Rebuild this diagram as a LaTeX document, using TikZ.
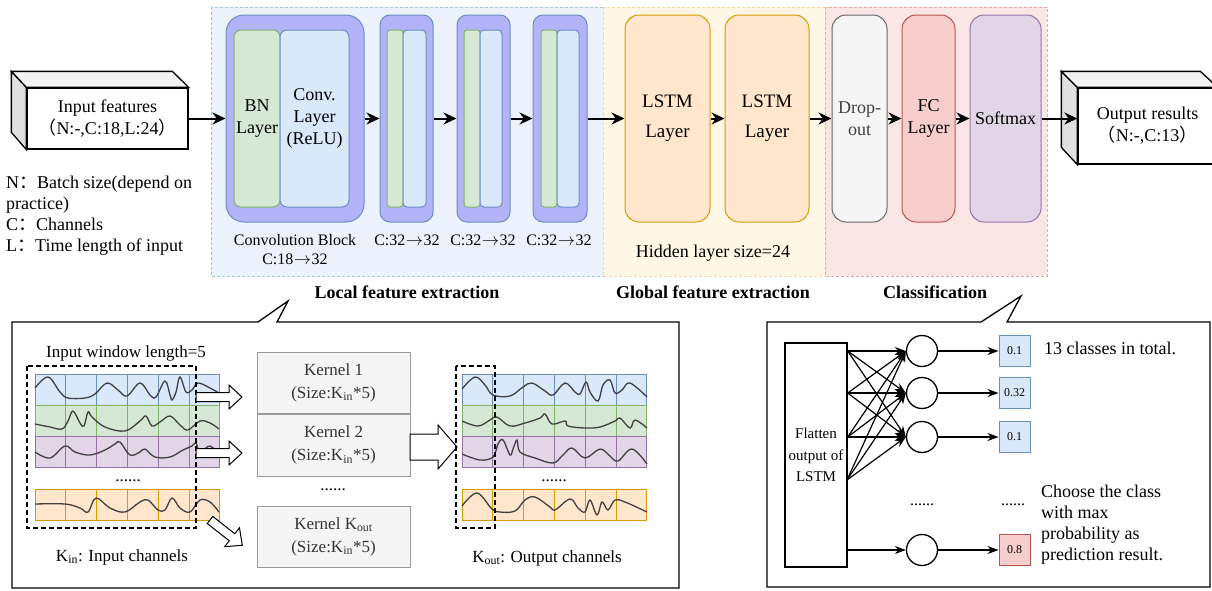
\documentclass[tikz,border=0pt]{standalone}
\usepackage{fontspec}
\setmainfont{Liberation Serif}
\newfontfamily\cjk{Noto Sans CJK SC}
\usetikzlibrary{arrows.meta, positioning}

\definecolor{bluefill}{HTML}{DAE8FC}
\definecolor{blueline}{HTML}{6C8EBF}
\definecolor{greenfill}{HTML}{D5E8D4}
\definecolor{greenline}{HTML}{82B366}
\definecolor{purpfill}{HTML}{E1D5E7}
\definecolor{purpline}{HTML}{9673A6}
\definecolor{orangefill}{HTML}{FFE6CC}
\definecolor{orangeline}{HTML}{D79B00}
\definecolor{redfill}{HTML}{F8CECC}
\definecolor{redline}{HTML}{B85450}
\definecolor{grayfill}{HTML}{F5F5F5}
\definecolor{grayline}{HTML}{666666}
\definecolor{convfill}{HTML}{B3B3FA}
\definecolor{locbg}{HTML}{EBF2FC}
\definecolor{locline}{HTML}{A9C1E3}
\definecolor{globg}{HTML}{FFF7E5}
\definecolor{globline}{HTML}{EED9A0}
\definecolor{clsbg}{HTML}{FBE6E6}
\definecolor{clsline}{HTML}{E8A8A8}

\newcommand{\fsz}[2]{\fontsize{#1}{#2}\selectfont}
\newcommand{\toarr}{\kern0.5pt$\rightarrow$\kern0.5pt}
% one row of six cells
\newcommand{\chanrow}[3]{\foreach \i in {0,...,5} \draw[#3] ({#1+\i*30.8},#2) rectangle ++(30.8,31);}
% hollow block arrow: x, y, angle, length, body half, head half, head length
\newcommand{\hollowarrow}[7]{%
  \begin{scope}[shift={(#1,#2)}, rotate=#3]
    \draw[fill=white, line width=1pt] (0,-#5) -- ({#4-#7},-#5) -- ({#4-#7},-#6) -- (#4,0)
      -- ({#4-#7},#6) -- ({#4-#7},#5) -- (0,#5) -- cycle;
  \end{scope}}

\begin{document}
\begin{tikzpicture}[
    x=1pt, y=-1pt,
    every node/.style={inner sep=0pt, align=center, font=\fsz{18}{22}},
    region/.style={dashed, line width=0.6pt, dash pattern=on 3pt off 2pt},
    cube/.style={draw, fill=white, line width=1.3pt},
    convblock/.style={draw=blueline, fill=convfill, line width=1pt, rounded corners=18pt, minimum height=207pt},
    bnlayer/.style={draw=greenline, fill=greenfill, line width=1pt, rounded corners=7pt, minimum height=177pt},
    convlayer/.style={draw=blueline, fill=bluefill, line width=1pt, rounded corners=7pt, minimum height=177pt},
    layerbox/.style={line width=1pt, rounded corners=14pt, minimum height=207pt},
    flow/.style={-{Stealth[length=13pt,width=12pt]}, line width=2pt},
    small/.style={font=\fsz{16}{19}},
    kernel/.style={draw=black!40, fill=grayfill, line width=1pt, minimum width=153pt, text=black!80, font=\fsz{17}{23}},
    winbox/.style={draw, dashed, dash pattern=on 5pt off 3pt, line width=1.5pt},
    wave/.style={draw=black!75, line width=1.3pt},
    link/.style={-{Stealth[length=11pt,width=8pt]}, line width=1.2pt},
    prob/.style={line width=1pt, minimum width=31pt, minimum height=31pt, font=\fsz{12}{14}}
  ]
  \useasboundingbox (0,0) rectangle (1212,590);

  % Regions
  \draw[region, fill=locbg, draw=locline] (211,7) rectangle (603,276);
  \draw[region, fill=globg, draw=globline] (603,7) rectangle (825,276);
  \draw[region, fill=clsbg, draw=clsline] (825,7) rectangle (1047,276);

  % Input / output boxes
  \node[cube, minimum width=161pt, minimum height=61pt] (inp) at (107.5,118.5) {Input features\\{\cjk（}N:-,C:18,L:24{\cjk）}};
  \draw[cube, fill=black!12] (inp.north west) -- ++(-15,-16) -- ++(0,61) -- (inp.south west) -- cycle;
  \draw[cube, fill=black!5] (inp.north west) -- ++(-15,-16) -- ++(161,0) -- (inp.north east) -- cycle;
  \node[cube, minimum width=139pt, minimum height=76pt] (out) at (1147.5,126) {Output results\\{\cjk（}N:-,C:13{\cjk）}};
  \draw[cube, fill=black!12] (out.north west) -- ++(-16,-16) -- ++(0,76) -- (out.south west) -- cycle;
  \draw[cube, fill=black!5] (out.north west) -- ++(-16,-16) -- ++(139,0) -- (out.north east) -- cycle;

  \node[anchor=west, align=left, font=\fsz{18}{21}] (legend) at (6,215.5)
    {N{\cjk：}Batch size(depend on\\practice)\\C{\cjk：}Channels\\L{\cjk：}Time length of input};

  % Convolution blocks
  \node[convblock, minimum width=138pt] (cb1) at (295,118.5) {};
  \node[bnlayer, minimum width=46pt] (bn1) at (257,118.5) {BN\\Layer};
  \node[convlayer, minimum width=69pt] (cl1) at (314.5,118.5) {Conv.\\Layer\\(ReLU)};
  \node[convblock, minimum width=53pt, rounded corners=10pt] (cb2) at (406.5,118.5) {};
  \node[bnlayer, minimum width=16pt, rounded corners=3pt] (bn2) at (395,118.5) {};
  \node[convlayer, minimum width=23pt, rounded corners=4pt] (cl2) at (414.5,118.5) {};
  \node[convblock, minimum width=53pt, rounded corners=10pt] (cb3) at (483.5,118.5) {};
  \node[bnlayer, minimum width=16pt, rounded corners=3pt] (bn3) at (472,118.5) {};
  \node[convlayer, minimum width=22pt, rounded corners=4pt] (cl3) at (491,118.5) {};
  \node[convblock, minimum width=54pt, rounded corners=10pt] (cb4) at (560,118.5) {};
  \node[bnlayer, minimum width=16pt, rounded corners=3pt] (bn4) at (549,118.5) {};
  \node[convlayer, minimum width=22pt, rounded corners=4pt] (cl4) at (568,118.5) {};

  \node[small] (lb1) at (295,249.5) {Convolution Block\\C:18\toarr32};
  \node[small] (lb2) at (407,240) {C:32\toarr32};
  \node[small] (lb3) at (483,240) {C:32\toarr32};
  \node[small] (lb4) at (559,240) {C:32\toarr32};

  % LSTM and classifier layers
  \node[layerbox, draw=orangeline, fill=orangefill, minimum width=85pt, font=\fsz{19}{30}] (lstm1) at (667.5,118.5) {LSTM\\Layer};
  \node[layerbox, draw=orangeline, fill=orangefill, minimum width=84pt, font=\fsz{19}{30}] (lstm2) at (767,118.5) {LSTM\\Layer};
  \node (hid) at (713,253) {Hidden layer size=24};
  \node[layerbox, draw=grayline, fill=grayfill, minimum width=55pt, text=black!75] (drop) at (859.5,118.5) {Drop-\\out};
  \node[layerbox, draw=redline, fill=redfill, minimum width=53pt] (fc) at (928.5,118.5) {FC\\Layer};
  \node[layerbox, draw=purpline, fill=purpfill, minimum width=71pt] (soft) at (1005.5,118.5) {Softmax};

  % Arrows
  \draw[flow] (inp) -- (cb1);
  \draw[flow] (cb1) -- (cb2);
  \draw[flow] (cb2) -- (cb3);
  \draw[flow] (cb3) -- (cb4);
  \draw[flow] (cb4) -- (lstm1);
  \draw[flow] (lstm1) -- (lstm2);
  \draw[flow] (lstm2) -- (drop);
  \draw[flow] (drop) -- (fc);
  \draw[flow] (fc) -- (soft);
  \draw[flow] (soft.east) -- (soft.east -| out.west);

  \node[font=\bfseries\fsz{18}{22}] (tloc) at (407,292) {Local feature extraction};
  \node[font=\bfseries\fsz{18}{22}] (tglo) at (713,292) {Global feature extraction};
  \node[font=\bfseries\fsz{18}{22}] (tcls) at (935,292) {Classification};

  % Callouts
  \draw[line width=1.3pt] (12,322) -- (258,322) -- (288,301) -- (277,322) -- (679,322) -- (679,588) -- (12,588) -- cycle;
  \draw[line width=1.3pt] (767,322) -- (981,322) -- (1021,296) -- (1007,322) -- (1210,322) -- (1210,587) -- (767,587) -- cycle;

  % Input channels
  \node[font=\fsz{17}{20}] (winlen) at (126,353) {Input window length=5};
  \chanrow{35}{374}{draw=blueline, fill=bluefill, line width=1pt}
  \chanrow{35}{405}{draw=greenline, fill=greenfill, line width=1pt}
  \chanrow{35}{436}{draw=purpline, fill=purpfill, line width=1pt}
  \chanrow{35}{489}{draw=orangeline, fill=orangefill, line width=1pt}
  \draw[wave] plot[smooth, tension=0.6] coordinates {(35,388) (48,377) (60,392) (68,398) (85,398) (95,394) (107,383) (118,390) (127,396) (140,383) (150,395) (156,397) (165,381) (170,395) (172,400) (176,392) (180,377) (186,392) (192,390) (198,383) (210,388) (219,393)};
  \draw[wave] plot[smooth, tension=0.6] coordinates {(35,424) (50,427) (62,429) (68,421) (73,411) (80,423) (84,426) (88,412) (92,417) (105,427) (125,431) (140,421) (146,416) (152,426) (160,422) (170,416) (180,425) (188,430) (200,421) (210,423) (219,429)};
  \draw[wave] plot[smooth, tension=0.6] coordinates {(35,452) (50,458) (65,446) (75,452) (90,455) (105,450) (115,444) (120,442) (130,455) (140,452) (145,449) (155,457) (170,457) (183,450) (192,446) (196,443) (200,452) (210,446) (219,455)};
  \draw[wave] plot[smooth, tension=0.6] coordinates {(35,504) (65,504) (80,508) (88,512) (96,498) (110,508) (125,512) (140,502) (148,500) (158,510) (165,510) (172,498) (180,508) (190,512) (200,500) (210,502) (219,512)};
  \node[font=\fsz{17}{20}] (dots1) at (128,481) {......};
  \draw[winbox] (27,366) rectangle (196,528);
  \node[font=\fsz{17}{20}] (kin) at (122,557) {K\textsubscript{in}: Input channels};

  % Kernels
  \node[kernel, minimum height=61pt] (k1) at (333.5,382.5) {Kernel 1\\(Size:K\textsubscript{in}*5)};
  \node[kernel, minimum height=62pt, below=0pt of k1] (k2) {Kernel 2\\(Size:K\textsubscript{in}*5)};
  \node[kernel, minimum height=61pt] (k3) at (333.5,536.5) {Kernel K\textsubscript{out}\\(Size:K\textsubscript{in}*5)};
  \node[font=\fsz{17}{20}] (dots2) at (333,490) {......};
  \hollowarrow{196}{397}{0}{46}{4.5}{12}{13}
  \hollowarrow{196}{453}{0}{46}{4.5}{12}{13}
  \hollowarrow{210}{520}{-38}{41}{4.5}{12}{13}
  \hollowarrow{410}{447}{0}{47}{13}{22}{19}

  % Output channels
  \chanrow{462}{374}{draw=blueline, fill=bluefill, line width=1pt}
  \chanrow{462}{405}{draw=greenline, fill=greenfill, line width=1pt}
  \chanrow{462}{436}{draw=purpline, fill=purpfill, line width=1pt}
  \chanrow{462}{489}{draw=orangeline, fill=orangefill, line width=1pt}
  \draw[wave] plot[smooth, tension=0.6] coordinates {(462,389) (475,377) (485,385) (493,395) (510,396) (523,387) (532,383) (545,391) (553,395) (565,383) (575,392) (580,394) (586,382) (590,392) (598,401) (603,385) (610,380) (615,393) (622,390) (630,383) (647,397)};
  \draw[wave] plot[smooth, tension=0.6] coordinates {(462,421) (478,426) (490,420) (497,417) (510,426) (525,423) (540,418) (545,414) (552,424) (565,421) (568,426) (585,428) (600,427) (615,421) (620,418) (630,428) (635,420) (647,428)};
  \draw[wave] plot[smooth, tension=0.6] coordinates {(462,454) (480,460) (493,457) (498,444) (503,440) (510,455) (513,449) (517,440) (520,452) (535,458) (553,463) (563,455) (572,448) (585,458) (600,449) (610,456) (618,461) (632,449) (647,464)};
  \draw[wave] plot[smooth, tension=0.6] coordinates {(462,506) (477,493) (492,509) (500,512) (515,511) (525,500) (535,497) (550,507) (555,510) (570,499) (578,508) (585,512) (590,500) (597,515) (602,502) (608,510) (615,500) (625,502) (647,512)};
  \node[font=\fsz{17}{20}] (dots3) at (554,481) {......};
  \draw[winbox] (456,366) rectangle (495,528);
  \node[font=\fsz{17}{20}] (kout) at (547,558) {K\textsubscript{out}: Output channels};

  % Classifier detail
  \node[draw, line width=1.3pt, minimum width=62pt, minimum height=224pt, font=\fsz{15}{21.5}] (flat) at (816,455) {Flatten\\output of\\LSTM};
  \foreach \n/\y in {1/351, 2/393, 3/437, 4/550}
    \node[draw, circle, line width=1.3pt, minimum size=31pt] (c\n) at (922,\y) {};
  \node[prob, draw=blueline, fill=bluefill] (p1) at (1014.5,351) {0.1};
  \node[prob, draw=blueline, fill=bluefill] (p2) at (1014.5,393) {0.32};
  \node[prob, draw=blueline, fill=bluefill] (p3) at (1014.5,437) {0.1};
  \node[prob, draw=redline, fill=redfill] (p4) at (1014.5,550) {0.8};
  \coordinate (s1) at (flat.east |- c1);
  \coordinate (s2) at (flat.east |- c2);
  \coordinate (s3) at (flat.east |- c3);
  \coordinate (s4) at (847,480);
  \coordinate (s5) at (flat.east |- c4);
  \foreach \s in {s1,s2,s3,s4}
    \foreach \c in {c1,c2,c3}
      \draw[link] (\s) -- (\c.west);
  \draw[link] (s5) -- (c4);
  \foreach \n in {1,...,4}
    \draw[link] (c\n) -- (p\n);
  \node[font=\fsz{16}{20}] (dots4) at (922,505) {......};
  \node[font=\fsz{16}{20}] (dots5) at (1013,505) {......};
  \node[anchor=west, font=\fsz{18}{21}] (ncls) at (1044,348) {13 classes in total.};
  \node[anchor=west, align=left, font=\fsz{18}{21}] (choose) at (1041,524.5) {Choose the class\\with max\\probability as\\prediction result.};
\end{tikzpicture}
\end{document}
